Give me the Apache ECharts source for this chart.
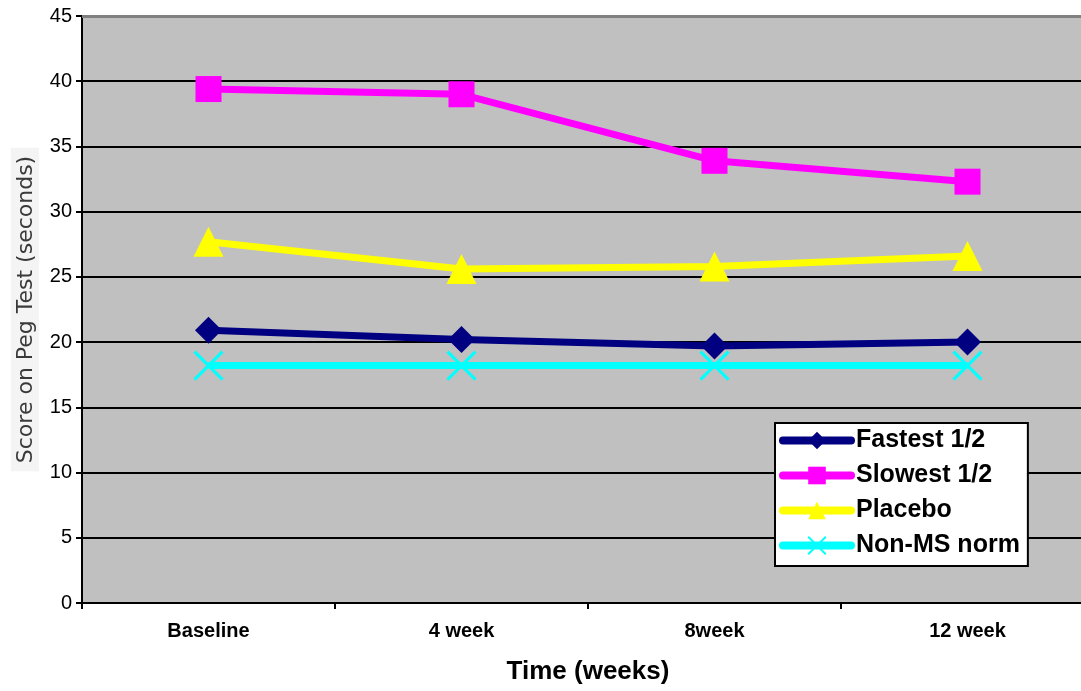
<!DOCTYPE html>
<html>
<head>
<meta charset="utf-8">
<style>
  html, body { margin: 0; padding: 0; background: #fff; }
  #chart { width: 1081px; height: 691px; }
</style>
<script src="https://cdn.jsdelivr.net/npm/echarts@6/dist/echarts.min.js"></script>
</head>
<body>
<div id="chart"></div>
<script>
// Peg test scores (seconds) at each visit
const categories = ['Baseline', '4 week', '8week', '12 week'];
const fastestHalf = [20.9, 20.2, 19.7, 20.0];
const slowestHalf = [39.4, 39.0, 33.9, 32.3];
const placebo = [27.7, 25.6, 25.8, 26.6];
const nonMsNorm = [18.2, 18.2, 18.2, 18.2];
const yMin = 0, yMax = 45, yStep = 5;

const FONT = '"Liberation Sans", Arial, sans-serif';
const crossPath = 'path://M0,0L20,20M20,0L0,20';

function lineSeries(name, data, color, symbol, size, extra) {
  return Object.assign({
    name: name,
    type: 'line',
    data: data,
    symbol: symbol,
    symbolSize: size,
    showAllSymbol: true,
    lineStyle: { color: color, width: 7 },
    itemStyle: { color: color },
    emphasis: { disabled: true }
  }, extra || {});
}

const chart = echarts.init(document.getElementById('chart'), null, { renderer: 'canvas' });
chart.setOption({
  animation: false,
  backgroundColor: '#fff',
  grid: {
    left: 82, top: 16, width: 1012, height: 587,
    containLabel: false, outerBoundsMode: 'none',
    show: true, backgroundColor: '#c0c0c0', borderWidth: 0
  },
  legend: {
    orient: 'vertical',
    left: 775, top: 423,
    padding: [5, 8, 8, 4],
    itemWidth: 68, itemHeight: 22, itemGap: 10,
    backgroundColor: '#fff',
    borderColor: '#000', borderWidth: 2, borderRadius: 0,
    lineStyle: { width: 8, cap: 'round' },
    textStyle: { fontFamily: FONT, fontWeight: 'bold', fontSize: 25, color: '#000' },
    data: ['Fastest 1/2', 'Slowest 1/2', 'Placebo', 'Non-MS norm']
  },
  xAxis: {
    type: 'category',
    data: categories,
    boundaryGap: true,
    name: 'Time (weeks)',
    nameLocation: 'middle',
    nameGap: 56,
    nameTextStyle: { fontFamily: FONT, fontWeight: 'bold', fontSize: 26, color: '#000' },
    axisLine: { lineStyle: { color: '#000', width: 2 } },
    axisTick: { show: true, interval: 0, length: 6, lineStyle: { color: '#000', width: 2 } },
    axisLabel: { fontFamily: FONT, fontWeight: 'bold', fontSize: 20, color: '#000', margin: 18, interval: 0 },
    splitLine: { show: false }
  },
  yAxis: {
    type: 'value',
    min: yMin, max: yMax, interval: yStep,
    name: 'Score on Peg Test (seconds)',
    nameLocation: 'middle',
    nameRotate: 90,
    nameGap: 43,
    nameTextStyle: {
      fontFamily: '"DejaVu Sans", sans-serif', fontSize: 22, color: '#3a3a3a',
      backgroundColor: '#f4f4f4', padding: [4, 8, 2, 8]
    },
    axisLine: { show: true, lineStyle: { color: '#000', width: 2 } },
    axisTick: { show: true, length: 6, lineStyle: { color: '#000', width: 2 } },
    axisLabel: { fontFamily: FONT, fontSize: 20, color: '#000', margin: 10 },
    splitLine: { show: true, showMaxLine: false, lineStyle: { color: '#000', width: 2 } }
  },
  series: [
    lineSeries('Fastest 1/2', fastestHalf, '#000080', 'diamond', 27, {
      markLine: {
        silent: true, symbol: 'none', label: { show: false },
        lineStyle: { color: '#808080', width: 3, type: 'solid' },
        data: [{ yAxis: yMax }]
      }
    }),
    lineSeries('Slowest 1/2', slowestHalf, '#ff00ff', 'rect', 26),
    lineSeries('Placebo', placebo, '#ffff00', 'triangle', 30),
    lineSeries('Non-MS norm', nonMsNorm, '#00ffff', crossPath, 28, {
      itemStyle: { color: '#00ffff', borderColor: '#00ffff', borderWidth: 3 }
    })
  ]
});
</script>
</body>
</html>
